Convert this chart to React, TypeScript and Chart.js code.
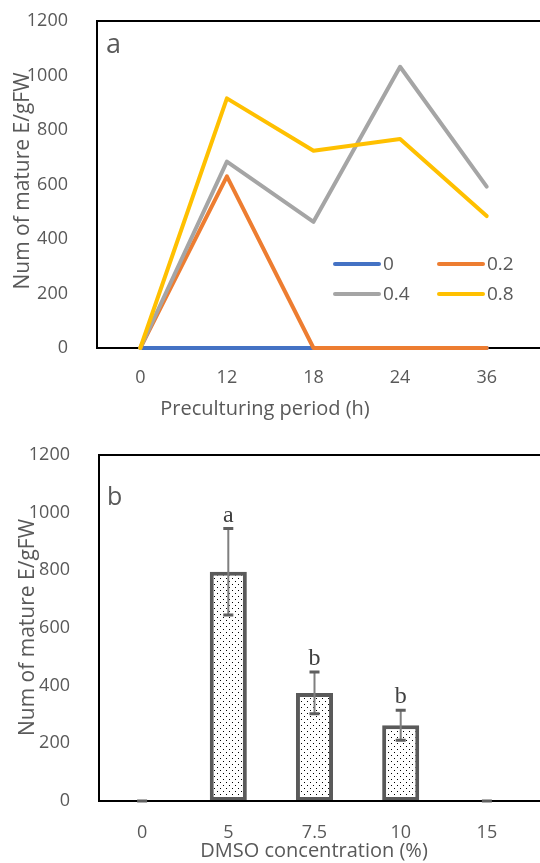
import React, { useEffect, useRef } from "react";
import { Chart, registerables } from "chart.js";

Chart.register(...registerables);

// ---------- Data: panel a ----------
const periodLabels = ["0", "12", "18", "24", "36"];
const seriesNames = ["0", "0.2", "0.4", "0.8"];
const series0 = [0, 0, 0, 0, 0];
const series02 = [0, 630, 0, 0, 0];
const series04 = [0, 684, 463, 1032, 592];
const series08 = [0, 916, 724, 767, 484];
const seriesColors = ["#4472C4", "#ED7D31", "#A5A5A5", "#FFC000"];

// ---------- Data: panel b ----------
const dmsoLabels = ["0", "5", "7.5", "10", "15"];
const dmsoMeans = [0, 795, 375, 263, 0];
const dmsoErrors = [0, 150, 72, 52, 0];
const dmsoLetters = ["", "a", "b", "b", ""];

const yTicks = { min: 0, max: 1200, step: 200 };

const TEXT = "#595959";
const FONT = "'Open Sans'";

function makeDotPattern(): CanvasPattern | string {
  const c = document.createElement("canvas");
  c.width = 6;
  c.height = 6;
  const g = c.getContext("2d");
  if (!g) return "#fff";
  g.fillStyle = "#ffffff";
  g.fillRect(0, 0, 6, 6);
  g.fillStyle = "#000000";
  g.fillRect(1, 1, 1, 1);
  g.fillRect(4, 4, 1, 1);
  return g.createPattern(c, "repeat") || "#fff";
}

function drawBox(chart: any) {
  const { ctx, chartArea, width } = chart;
  ctx.save();
  ctx.strokeStyle = "#000";
  ctx.lineWidth = 2;
  ctx.beginPath();
  ctx.moveTo(width + 5, chartArea.top);
  ctx.lineTo(chartArea.left, chartArea.top);
  ctx.lineTo(chartArea.left, chartArea.bottom);
  ctx.lineTo(width + 5, chartArea.bottom);
  ctx.stroke();
  ctx.restore();
}

function drawText(
  ctx: CanvasRenderingContext2D,
  text: string,
  x: number,
  y: number,
  font: string,
  align: CanvasTextAlign,
  rotate = false,
  color = TEXT
) {
  ctx.save();
  ctx.fillStyle = color;
  ctx.font = font;
  ctx.textAlign = align;
  ctx.textBaseline = "alphabetic";
  ctx.translate(x, y);
  if (rotate) ctx.rotate(-Math.PI / 2);
  ctx.fillText(text, 0, 0);
  ctx.restore();
}

function commonScales(xHeight: number, yWidth: number, xPad: number) {
  return {
    x: {
      type: "category" as const,
      offset: true,
      grid: { display: false },
      border: { display: false },
      ticks: {
        color: TEXT,
        font: { family: FONT, size: 18 },
        padding: xPad,
        maxRotation: 0,
        autoSkip: false,
      },
      afterFit: (s: any) => {
        s.height = xHeight;
        s.paddingLeft = 0;
        s.paddingRight = 0;
      },
    },
    y: {
      min: yTicks.min,
      max: yTicks.max,
      grid: { display: false },
      border: { display: false },
      ticks: {
        stepSize: yTicks.step,
        color: TEXT,
        font: { family: FONT, size: 18 },
        padding: 21,
        callback: (v: any) => String(v),
      },
      afterFit: (s: any) => {
        s.width = yWidth;
        s.paddingTop = 0;
        s.paddingBottom = 0;
      },
    },
  };
}

function LineChartA() {
  const ref = useRef<HTMLCanvasElement>(null);
  useEffect(() => {
    if (!ref.current) return;
    const all = [series0, series02, series04, series08];
    const datasets = all.map((d, i) => ({
      label: seriesNames[i],
      data: d,
      borderColor: seriesColors[i],
      backgroundColor: seriesColors[i],
      borderWidth: 4,
      pointRadius: 0,
      tension: 0,
      fill: false,
      borderCapStyle: "round" as const,
      borderJoinStyle: "round" as const,
      clip: false as const,
      order: all.length - i,
    }));
    const plugin = {
      id: "decorA",
      beforeDatasetsDraw(chart: any) {
        drawBox(chart);
      },
      afterDraw(chart: any) {
        const { ctx, chartArea } = chart;
        drawText(ctx, "a", chartArea.left + 9, 53, `27px ${FONT}`, "left");
        // legend
        chart.data.datasets.forEach((ds: any, i: number) => {
          const col = i % 2;
          const row = Math.floor(i / 2);
          const x0 = chartArea.left + 236 + col * 104;
          const y = 264 + row * 30;
          ctx.save();
          ctx.strokeStyle = ds.borderColor;
          ctx.lineWidth = 4;
          ctx.lineCap = "round";
          ctx.beginPath();
          ctx.moveTo(x0 + 2, y);
          ctx.lineTo(x0 + 46, y);
          ctx.stroke();
          ctx.fillStyle = TEXT;
          ctx.font = `19px ${FONT}`;
          ctx.textAlign = "left";
          ctx.textBaseline = "middle";
          ctx.fillText(ds.label, x0 + 50, y + 1);
          ctx.restore();
        });
        drawText(ctx, "Preculturing period (h)", 265, 415, `20px ${FONT}`, "center");
        drawText(ctx, "Num of mature E/gFW", 29, 181, `21px ${FONT}`, "center", true);
      },
    };
    const chart = new Chart(ref.current, {
      type: "line",
      data: { labels: periodLabels, datasets },
      options: {
        responsive: false,
        animation: false,
        layout: { padding: { top: 21, right: 10, left: 0, bottom: 0 } },
        plugins: { legend: { display: false }, tooltip: { enabled: false } },
        scales: commonScales(82, 97, 11) as any,
      },
      plugins: [plugin],
    });
    return () => chart.destroy();
  }, []);
  return <canvas ref={ref} width={540} height={430} style={{ display: "block" }} />;
}

function BarChartB() {
  const ref = useRef<HTMLCanvasElement>(null);
  useEffect(() => {
    if (!ref.current) return;
    const pattern = makeDotPattern();
    const plugin = {
      id: "decorB",
      afterDatasetsDraw(chart: any) {
        drawBox(chart);
        const { ctx } = chart;
        const meta = chart.getDatasetMeta(0);
        const yScale = chart.scales.y;
        meta.data.forEach((bar: any, i: number) => {
          const m = dmsoMeans[i];
          const e = dmsoErrors[i];
          const yTop = yScale.getPixelForValue(m + e);
          const yBot = yScale.getPixelForValue(m - e);
          const x = bar.x;
          ctx.save();
          ctx.strokeStyle = "#7f7f7f";
          ctx.lineWidth = 2;
          ctx.beginPath();
          ctx.moveTo(x, yTop);
          ctx.lineTo(x, yBot);
          ctx.stroke();
          ctx.strokeStyle = "#5f5f5f";
          ctx.lineWidth = 3;
          ctx.beginPath();
          ctx.moveTo(x - 5, yTop);
          ctx.lineTo(x + 5, yTop);
          ctx.moveTo(x - 5, yBot);
          ctx.lineTo(x + 5, yBot);
          ctx.stroke();
          ctx.restore();
          if (dmsoLetters[i]) {
            drawText(ctx, dmsoLetters[i], x, yTop - 7, `24px 'Liberation Serif'`, "center", false, "#404040");
          }
        });
      },
      afterDraw(chart: any) {
        const { ctx, chartArea } = chart;
        drawText(ctx, "b", chartArea.left + 8, 75, `25px ${FONT}`, "left");
        drawText(ctx, "DMSO concentration (%)", 314, 427, `20px ${FONT}`, "center");
        drawText(ctx, "Num of mature E/gFW", 34, 197.5, `21px ${FONT}`, "center", true);
      },
    };
    const chart = new Chart(ref.current, {
      type: "bar",
      data: {
        labels: dmsoLabels,
        datasets: [
          {
            label: "mean",
            data: dmsoMeans,
            backgroundColor: pattern as any,
            borderColor: "#5a5a5a",
            borderWidth: 4,
            borderSkipped: false,
            categoryPercentage: 1,
            barPercentage: 0.43,
          },
        ],
      },
      options: {
        responsive: false,
        animation: false,
        layout: { padding: { top: 25, right: 10, left: 0, bottom: 0 } },
        plugins: { legend: { display: false }, tooltip: { enabled: false } },
        scales: commonScales(62, 99, 13) as any,
      },
      plugins: [plugin],
    });
    return () => chart.destroy();
  }, []);
  return <canvas ref={ref} width={540} height={433} style={{ display: "block" }} />;
}

export default function App() {
  return (
    <div style={{ position: "absolute", left: 0, top: 0, width: 540, height: 863, background: "#fff" }}>
      <LineChartA />
      <BarChartB />
    </div>
  );
}
